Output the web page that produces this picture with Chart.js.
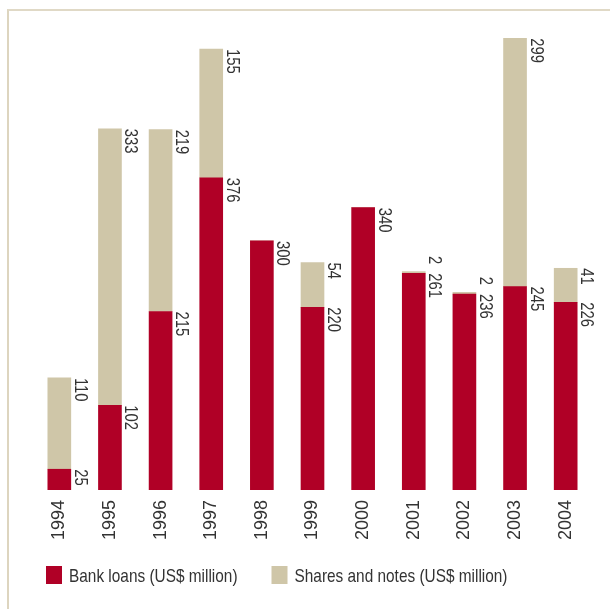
<!DOCTYPE html>
<html><head><meta charset="utf-8">
<script src="https://cdn.jsdelivr.net/npm/chart.js@4.4.1/dist/chart.umd.min.js"></script>
<style>
html,body{margin:0;padding:0;background:#fff;}
#wrap{position:relative;width:610px;height:609px;overflow:hidden;}
#frame{position:absolute;left:7px;top:9px;right:-10px;bottom:-10px;border-top:2px solid #e0d9c6;border-left:2px solid #ddd5bf;}
canvas{position:absolute;left:0;top:0;}
</style></head><body>
<div id="wrap"><div id="frame"></div><canvas id="c" width="610" height="609"></canvas></div>
<script>
const years = ['1994','1995','1996','1997','1998','1999','2000','2001','2002','2003','2004'];
const bankLoans = [25,102,215,376,300,220,340,261,236,245,226];
const sharesNotes = [110,333,219,155,0,54,0,2,2,299,41];
const seriesNames = ['Bank loans (US$ million)','Shares and notes (US$ million)'];
const seriesColors = ['#b00026','#cfc6a8'];
const yMax = 560;

const FONT = "'Liberation Sans',Arial,sans-serif";
const TEXT = '#333333';
const SQUEEZE_VAL = 0.78;
const SQUEEZE_LEG = 0.81;

const valueLabels = {
  id:'valueLabels',
  afterDatasetsDraw(chart){
    const ctx = chart.ctx;
    const m0 = chart.getDatasetMeta(0), m1 = chart.getDatasetMeta(1);
    ctx.save();
    ctx.font = "19px " + FONT;
    ctx.fillStyle = TEXT;
    ctx.textAlign = 'left'; ctx.textBaseline = 'alphabetic';
    const draw = (t,x,y)=>{ctx.save();ctx.translate(x,y);ctx.rotate(Math.PI/2);ctx.scale(SQUEEZE_VAL,1);ctx.fillText(t,0,0);ctx.restore();};
    years.forEach((_,i)=>{
      const b = m0.data[i], s = m1.data[i];
      const xr = b.x + b.width/2 + 4;
      const bTop = b.y;
      draw(String(bankLoans[i]), xr, bTop);
      if (sharesNotes[i] > 0){
        const t = String(sharesNotes[i]);
        const w = ctx.measureText(t).width * SQUEEZE_VAL;
        let y = s.y;
        if (y + w + 8 > bTop) y = bTop - 9 - w;
        draw(t, xr, y);
      }
    });
    ctx.restore();
  }
};

const customLegend = {
  id:'customLegend',
  afterDraw(chart){
    const ctx = chart.ctx;
    ctx.save();
    ctx.font = "19px " + FONT;
    ctx.textAlign = 'left'; ctx.textBaseline = 'alphabetic';
    let x = 46; const top = 566;
    chart.data.datasets.forEach(ds=>{
      ctx.fillStyle = ds.backgroundColor;
      ctx.fillRect(x, top, 16, 18);
      x += 16 + 7;
      ctx.fillStyle = TEXT;
      ctx.save();
      ctx.translate(x, 582);
      ctx.scale(SQUEEZE_LEG, 1);
      ctx.fillText(ds.label, 0, 0);
      ctx.restore();
      x += ctx.measureText(ds.label).width * SQUEEZE_LEG + 34;
    });
    ctx.restore();
  }
};

new Chart(document.getElementById('c'), {
  type:'bar',
  data:{
    labels: years,
    datasets:[
      {label: seriesNames[0], data: bankLoans, backgroundColor: seriesColors[0], borderWidth:0, barThickness:23},
      {label: seriesNames[1], data: sharesNotes, backgroundColor: seriesColors[1], borderWidth:0, barThickness:23}
    ]
  },
  options:{
    responsive:false, animation:false, devicePixelRatio:1,
    layout:{padding:{left:34,right:19,top:25,bottom:0}},
    plugins:{legend:{display:false}, tooltip:{enabled:false}},
    scales:{
      x:{stacked:true, grid:{display:false, drawTicks:false}, border:{display:false},
         ticks:{color:TEXT, font:{family:FONT, size:18}, maxRotation:90, minRotation:90, padding:10, autoSkip:false},
         afterFit(s){ s.height = 119; }},
      y:{stacked:true, display:false, min:0, max:yMax}
    }
  },
  plugins:[valueLabels, customLegend]
});
</script>
</body></html>
